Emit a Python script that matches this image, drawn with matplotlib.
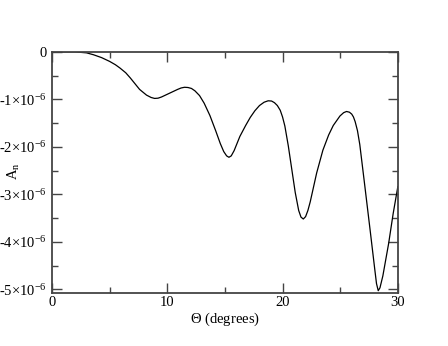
import numpy as np
import matplotlib
matplotlib.use("Agg")
import matplotlib.pyplot as plt
from matplotlib.ticker import MultipleLocator

plt.rcParams['font.family'] = ['Liberation Serif', 'DejaVu Serif']
plt.rcParams['mathtext.fontset'] = 'custom'
plt.rcParams['mathtext.rm'] = 'Liberation Serif'
plt.rcParams['mathtext.it'] = 'Liberation Serif:italic'

# values (A_n in units of 1e-6)
theta = [0, 1, 2, 2.5, 3, 3.6, 4.3, 5.0, 5.5, 5.9, 6.4, 6.8, 7.2, 7.6, 8.2,
         8.6, 8.9, 9.2, 9.5, 10.2, 10.9, 11.2, 11.5, 11.8, 12.1, 12.4, 12.8,
         13.2, 13.7, 14.2, 14.6, 14.9, 15.15, 15.35, 15.55, 15.8, 16.3, 16.8,
         17.2, 17.6, 18.0, 18.4, 18.75, 19.05, 19.3, 19.55, 19.8, 20.0, 20.2,
         20.5, 20.8, 21.1, 21.4, 21.6, 21.8, 22.0, 22.2, 22.4, 22.96, 23.5,
         24.0, 24.4, 24.98, 25.3, 25.55, 25.8, 26.0, 26.15, 26.3, 26.5, 26.7,
         27.1, 27.6, 28.0, 28.15, 28.3, 28.45, 28.7, 29.2, 29.6, 30.0]
an = [0, 0, 0, -0.01, -0.02, -0.06, -0.12, -0.2, -0.27, -0.34, -0.44, -0.55,
      -0.67, -0.79, -0.91, -0.96, -0.98, -0.975, -0.95, -0.87, -0.79, -0.76,
      -0.745, -0.75, -0.77, -0.82, -0.92, -1.08, -1.34, -1.66, -1.93, -2.10,
      -2.19, -2.22, -2.19, -2.08, -1.78, -1.55, -1.38, -1.24, -1.13, -1.06,
      -1.03, -1.035, -1.07, -1.13, -1.23, -1.37, -1.56, -1.98, -2.47, -2.96,
      -3.34, -3.48, -3.52, -3.47, -3.34, -3.16, -2.55, -2.07, -1.75, -1.55,
      -1.35, -1.28, -1.255, -1.27, -1.31, -1.37, -1.47, -1.66, -1.95, -2.75,
      -3.76, -4.58, -4.88, -5.03, -4.97, -4.72, -4.04, -3.40, -2.84]

yticks = [0, -1e-6, -2e-6, -3e-6, -4e-6, -5e-6]
ylabels = ['0', '-1\u00d710$^{-6}$', '-2\u00d710$^{-6}$',
           '-3\u00d710$^{-6}$', '-4\u00d710$^{-6}$', '-5\u00d710$^{-6}$']
xticks = [0, 10, 20, 30]

fig = plt.figure(figsize=(4.48, 3.46), dpi=100)
ax = fig.add_axes([0.116, 0.153, 0.772, 0.697])

ax.plot(theta, np.array(an) * 1e-6, color='black', lw=0.9)

ax.set_xlim(0, 30)
ax.set_ylim(-5.08e-6, 0)
ax.set_xticks(xticks)
ax.set_xticklabels([str(t) for t in xticks])
ax.set_yticks(yticks)
ax.set_yticklabels(ylabels)
ax.xaxis.set_minor_locator(MultipleLocator(5))
ax.yaxis.set_minor_locator(MultipleLocator(0.5e-6))
ax.tick_params(which='both', direction='in', top=True, right=True,
               width=1, color='#444444', pad=2)
ax.tick_params(axis='x', labelsize=10.5)
ax.tick_params(axis='y', labelsize=10.5, pad=4)
ax.tick_params(which='major', length=7)
ax.tick_params(which='minor', length=4)
for s in ax.spines.values():
    s.set_linewidth(1.3)
    s.set_color('#444444')

ax.set_xlabel(r'$\Theta$ (degrees)', fontsize=10.5, labelpad=1)
ax.set_ylabel(r'A$_{\rm n}$', fontsize=10.5)
ax.yaxis.set_label_coords(-0.087, 0.506)

fig.savefig('out.png', dpi=100)
